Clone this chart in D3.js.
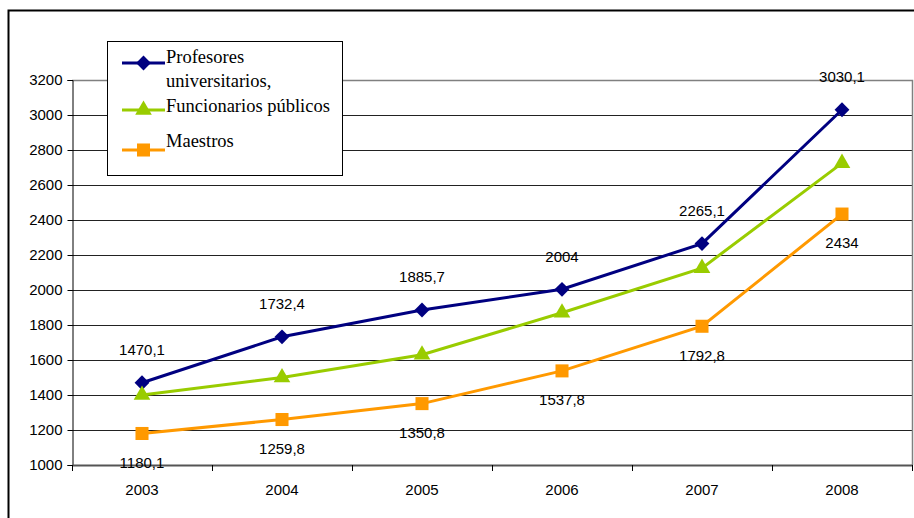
<!DOCTYPE html>
<html>
<head>
<meta charset="utf-8">
<script src="https://cdn.jsdelivr.net/npm/d3@7"></script>
<style>
  body { margin: 0; background: #fff; }
  svg { display: block; }
</style>
</head>
<body>
<svg id="chart" width="914" height="518"></svg>
<script>
const years = ["2003", "2004", "2005", "2006", "2007", "2008"];
const profesores = [1470.1, 1732.4, 1885.7, 2004, 2265.1, 3030.1];
const funcionarios = [1400, 1500, 1630, 1870, 2125, 2725];
const maestros = [1180.1, 1259.8, 1350.8, 1537.8, 1792.8, 2434];
const profesoresLabels = ["1470,1", "1732,4", "1885,7", "2004", "2265,1", "3030,1"];
const maestrosLabels = ["1180,1", "1259,8", "1350,8", "1537,8", "1792,8", "2434"];
const yTicks = [1000, 1200, 1400, 1600, 1800, 2000, 2200, 2400, 2600, 2800, 3000, 3200];
const seriesNames = ["Profesores\nuniversitarios,", "Funcionarios públicos", "Maestros"];
const colors = ["#000080", "#99CC00", "#FF9900"];

(function () {
const svg = d3.select("#chart");
const pLeft = 72, pRight = 912, pTop = 80, pBottom = 465;

// outer border
svg.append("rect").attr("x", 8.5).attr("y", 10.5).attr("width", 920).attr("height", 520)
  .attr("fill", "none").attr("stroke", "#000").attr("stroke-width", 2);

const x = d3.scaleBand().domain(years).range([pLeft, pRight]);
const y = d3.scaleLinear().domain([1000, 3200]).range([pBottom, pTop]);

// gridlines
svg.append("g").selectAll("line").data(yTicks.filter(t => t > 1000 && t < 3200)).join("line")
  .attr("x1", pLeft).attr("x2", pRight)
  .attr("y1", d => Math.round(y(d)) + 0.5).attr("y2", d => Math.round(y(d)) + 0.5)
  .attr("stroke", "#222").attr("stroke-width", 1);

// plot border top & right (gray)
svg.append("path")
  .attr("d", `M${pLeft},${pTop + 0.5}H${pRight + 0.5}V${pBottom}`)
  .attr("fill", "none").attr("stroke", "#808080").attr("stroke-width", 1.5);

// y axis
const yAxis = d3.axisLeft(y).tickValues(yTicks).tickSize(5).tickPadding(5).tickFormat(d3.format("d"));
const gy = svg.append("g").attr("transform", `translate(${pLeft + 0.5},0)`).call(yAxis);
gy.select(".domain").attr("stroke", "#000");
gy.selectAll(".tick line").attr("stroke", "#000");
gy.selectAll("text").attr("font-family", "Liberation Sans, Arial, sans-serif").attr("font-size", 15).attr("fill", "#000");

// x axis
const xAxis = d3.axisBottom(x).tickSize(0).tickPadding(19);
const gx = svg.append("g").attr("transform", `translate(0,${pBottom})`).call(xAxis);
gx.select(".domain").attr("stroke", "#555").attr("stroke-width", 2);
gx.selectAll("text").attr("font-family", "Liberation Sans, Arial, sans-serif").attr("font-size", 15).attr("fill", "#000");
// category boundary ticks
const bounds = years.map(d => x(d)).concat([x(years[years.length - 1]) + x.bandwidth()]);
svg.append("g").selectAll("line").data(bounds).join("line")
  .attr("x1", d => Math.round(d) + 0.5).attr("x2", d => Math.round(d) + 0.5)
  .attr("y1", pBottom).attr("y2", pBottom + 6).attr("stroke", "#000");

const cx = d => x(d) + x.bandwidth() / 2;
const allSeries = [profesores, funcionarios, maestros];
const line = d3.line().x((d, i) => cx(years[i])).y(d => y(d));

const symbolTypes = [d3.symbolSquare, d3.symbolTriangle, d3.symbolSquare];
const symbolSizes = [110, 120, 170];
const symbolRot = [45, 0, 0];

allSeries.forEach((vals, s) => {
  svg.append("path").datum(vals).attr("d", line)
    .attr("fill", "none").attr("stroke", colors[s]).attr("stroke-width", 3);
});
allSeries.forEach((vals, s) => {
  svg.append("g").selectAll("path").data(vals).join("path")
    .attr("transform", (d, i) => `translate(${cx(years[i])},${y(d)}) rotate(${symbolRot[s]})`)
    .attr("d", d3.symbol().type(symbolTypes[s]).size(symbolSizes[s]))
    .attr("fill", colors[s]);
});

// data labels
svg.append("g").selectAll("text").data(profesores).join("text")
  .attr("x", (d, i) => cx(years[i])).attr("y", d => y(d) - 33).attr("dy", "0.35em")
  .attr("text-anchor", "middle").attr("font-family", "Liberation Sans, Arial, sans-serif").attr("font-size", 15)
  .text((d, i) => profesoresLabels[i]);
svg.append("g").selectAll("text").data(maestros).join("text")
  .attr("x", (d, i) => cx(years[i])).attr("y", d => y(d) + 29).attr("dy", "0.35em")
  .attr("text-anchor", "middle").attr("font-family", "Liberation Sans, Arial, sans-serif").attr("font-size", 15)
  .text((d, i) => maestrosLabels[i]);

// legend
const lg = svg.append("g");
lg.append("rect").attr("x", 107.5).attr("y", 41.5).attr("width", 235).attr("height", 134)
  .attr("fill", "#fff").attr("stroke", "#000").attr("stroke-width", 1);
const legendY = [63, 110, 150];
const textY = [[63, 87], [112], [147]];
seriesNames.forEach((name, s) => {
  lg.append("line").attr("x1", 122).attr("x2", 165).attr("y1", legendY[s]).attr("y2", legendY[s])
    .attr("stroke", colors[s]).attr("stroke-width", 3);
  lg.append("path").attr("transform", `translate(143.5,${legendY[s]}) rotate(${symbolRot[s]})`)
    .attr("d", d3.symbol().type(symbolTypes[s]).size(symbolSizes[s])).attr("fill", colors[s]);
  name.split("\n").forEach((t, k) => {
    lg.append("text").attr("x", 166).attr("y", textY[s][k])
      .attr("font-family", "Liberation Serif, Times New Roman, serif").attr("font-size", 18.5)
      .attr("fill", "#000").text(t);
  });
});
})();
</script>
</body>
</html>
